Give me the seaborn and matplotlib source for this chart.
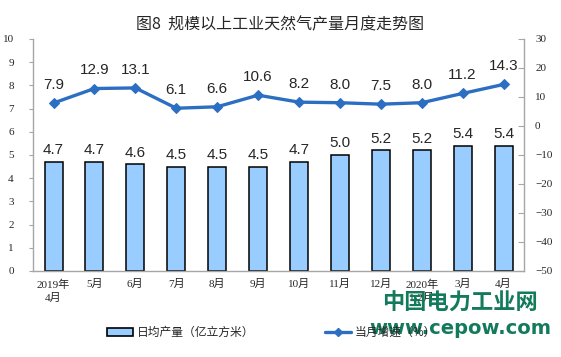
import numpy as np
import pandas as pd
import seaborn as sns
import matplotlib.pyplot as plt
from matplotlib.lines import Line2D
from matplotlib.patches import Patch

# data
months = ['2019年\n4月', '5月', '6月', '7月', '8月', '9月', '10月',
          '11月', '12月', '2020年\n1-2月', '3月', '4月']
daily_output = [4.7, 4.7, 4.6, 4.5, 4.5, 4.5, 4.7, 5.0, 5.2, 5.2, 5.4, 5.4]
growth_rate = [7.9, 12.9, 13.1, 6.1, 6.6, 10.6, 8.2, 8.0, 7.5, 8.0, 11.2, 14.3]

bar_color = '#99CCFF'
line_color = '#2C6FC2'
axis_grey = '#A6A6A6'
cjk = ['Noto Sans CJK SC', 'DejaVu Sans']
serif = ['Liberation Serif', 'Noto Sans CJK SC']

sns.set_style('white')
plt.rcParams['font.family'] = cjk

df = pd.DataFrame({'month': months, 'output': daily_output,
                   'growth': growth_rate, 'pos': np.arange(len(months))})

fig = plt.figure(figsize=(5.61, 3.57), dpi=100)
ax = fig.add_axes([0.059, 0.241, 0.875, 0.650])

sns.barplot(data=df, x='month', y='output', color=bar_color, width=0.44,
            edgecolor='black', linewidth=1.1, saturation=1, ax=ax)
ax.set_ylim(0, 10)
ax.set_xlim(-0.5, len(months) - 0.5)
ax.set_yticks(range(0, 11))
ax.set_xlabel('')
ax.set_ylabel('')

for i, v in enumerate(daily_output):
    ax.text(i, v + 0.2, f'{v:.1f}', ha='center', va='bottom', fontsize=11,
            family=['Liberation Sans'])

ax2 = ax.twinx()
sns.lineplot(data=df, x='pos', y='growth', color=line_color, linewidth=2.4,
             marker='D', markersize=5, markeredgecolor=line_color, ax=ax2)
ax2.set_ylim(-50, 30)
ax2.set_yticks(range(-50, 31, 10))
ax2.set_xlim(-0.5, len(months) - 0.5)
ax2.set_xlabel('')
ax2.set_ylabel('')

for i, v in enumerate(growth_rate):
    ax2.annotate(f'{v:.1f}', (i, v), xytext=(0, 8), textcoords='offset points',
                 ha='center', va='bottom', fontsize=11, family=['Liberation Sans'])

# axes styling
for a in (ax, ax2):
    a.spines['top'].set_visible(False)
    for s in ('left', 'right', 'bottom'):
        a.spines[s].set_color(axis_grey)
        a.spines[s].set_linewidth(1.0)
ax.spines['right'].set_visible(False)
ax2.spines['left'].set_visible(False)
ax2.spines['bottom'].set_visible(False)

ax.tick_params(axis='y', direction='out', length=3, color=axis_grey,
               labelsize=8, pad=11)
ax2.tick_params(axis='y', direction='in', length=4, color=axis_grey,
                labelsize=8, pad=8)
for lab in ax.get_yticklabels():
    lab.set_family(serif)
for lab in ax2.get_yticklabels():
    lab.set_family(serif)

ax.set_xticks(range(len(months)))
ax.set_xticklabels(months, fontsize=8, linespacing=1.4)
for lab in ax.get_xticklabels():
    lab.set_family(serif)
ax.set_xticks(np.arange(-0.5, len(months), 1), minor=True)
ax.tick_params(axis='x', which='major', length=0, pad=6)
ax.tick_params(axis='x', which='minor', direction='out', length=3,
               color=axis_grey)

fig.text(0.5, 0.929, '图8  规模以上工业天然气产量月度走势图', ha='center',
         va='center', fontsize=11.5)

handles = [Patch(facecolor=bar_color, edgecolor='black', linewidth=1.2),
           Line2D([0], [0], color=line_color, linewidth=2.4, marker='D',
                  markersize=4)]
fig.legend(handles, ['日均产量（亿立方米）', '当月增速（%）'],
           loc='center', bbox_to_anchor=(0.484, 0.068), ncol=2, frameon=False,
           fontsize=8.5, columnspacing=6, handlelength=2.2, handletextpad=0.3)

# watermark
fig.text(0.82, 0.151, '中国电力工业网', ha='center', va='center', fontsize=16,
         fontweight='bold', color='#137A5C', family=cjk)
fig.text(0.82, 0.081, 'www.cepow.com', ha='center', va='center', fontsize=14,
         fontweight='bold', color='#137A5C', family=['DejaVu Sans'])

fig.savefig('out.png', dpi=100)
